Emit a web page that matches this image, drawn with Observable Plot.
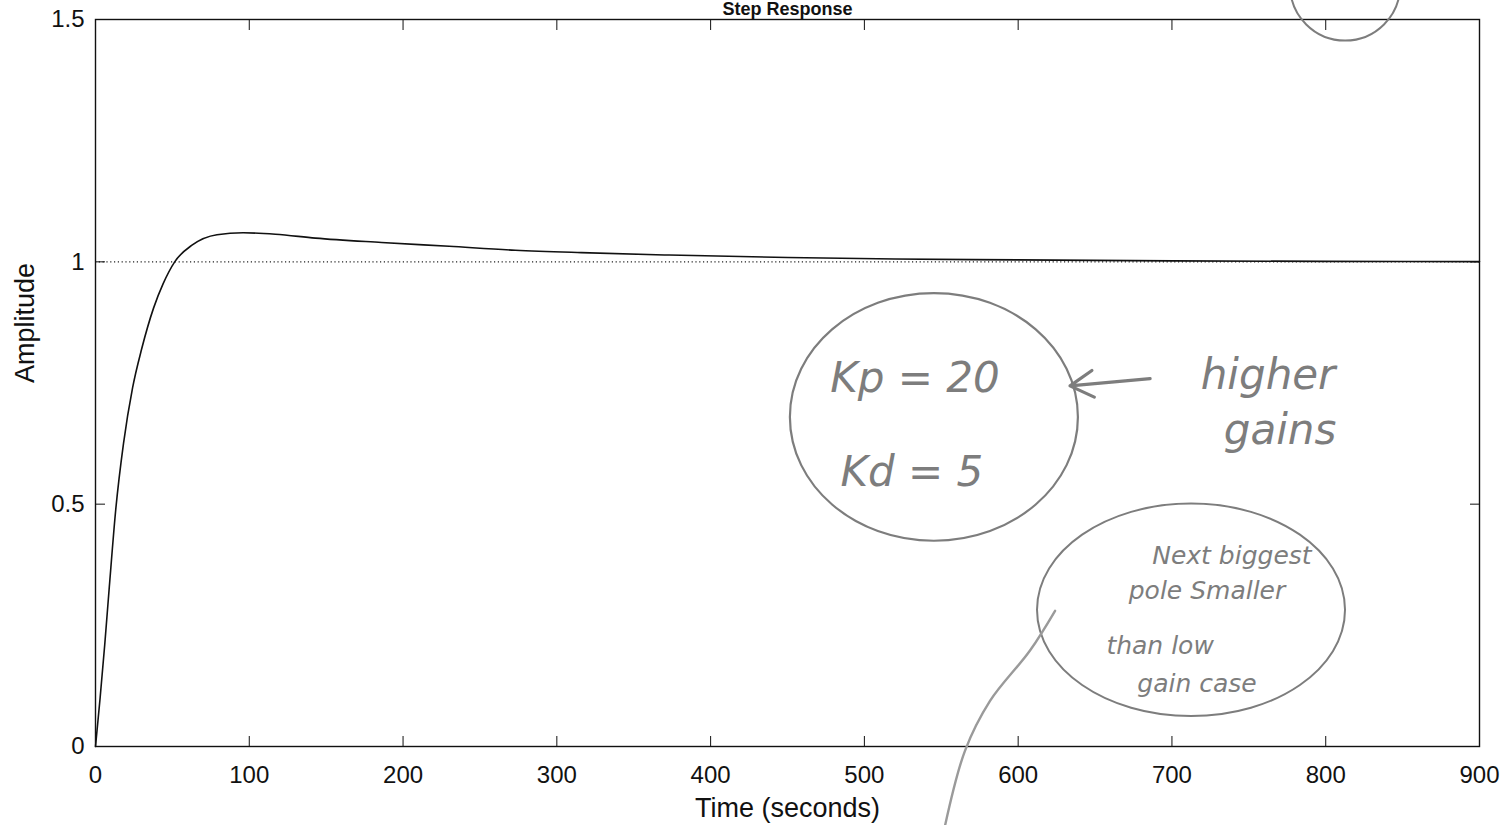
<!DOCTYPE html>
<html><head><meta charset="utf-8">
<script src="https://cdn.jsdelivr.net/npm/d3@7"></script>
<script src="https://cdn.jsdelivr.net/npm/@observablehq/plot@0.6"></script>
<style>
html,body{margin:0;padding:0;background:#fff;}
#chart svg{display:block;}
</style></head><body><div id="chart"></div>
<script>
// ---- data ----
const timeSec   = [0, 3, 6, 9, 13.2, 18.2, 24.1, 30, 37.8, 44, 51.5, 63, 79, 96, 117, 143, 186, 230, 273, 316, 373, 450, 520, 600, 700, 800, 900];
const amplitude = [0, 0.10, 0.21, 0.33, 0.49, 0.625, 0.74, 0.82, 0.905, 0.955, 1.0, 1.035, 1.056, 1.06, 1.057, 1.049, 1.04, 1.032, 1.024, 1.019, 1.014, 1.009, 1.006, 1.004, 1.002, 1.001, 1.0005];
const steadyState = [1];

const xTicks = [0, 100, 200, 300, 400, 500, 600, 700, 800, 900];
const xTickLabels = ["0", "100", "200", "300", "400", "500", "600", "700", "800", "900"];
const yTicks = [0, 0.5, 1, 1.5];
const yTickLabels = ["0", "0.5", "1", "1.5"];

const titleText = "Step Response";
const xLabel = "Time (seconds)";
const yLabel = "Amplitude";

// handwritten pencil notes
const bigNoteText = ["Kp = 20", "Kd = 5", "higher", "gains"];
const bigNoteT    = [532.9, 530.9, 762.5, 770.3];
const bigNoteA    = [0.759, 0.565, 0.765, 0.652];
const smallNoteText = ["Next biggest", "pole Smaller", "than low", "gain case"];
const smallNoteT    = [739, 722.8, 692.3, 716.3];
const smallNoteA    = [0.394, 0.321, 0.208, 0.129];
const arrowT = [685.8, 633.7];
const arrowA = [0.759, 0.744];
const pencilT = [624, 607.7, 581.7, 565.4, 552.4];
const pencilA = [0.28, 0.198, 0.094, -0.009, -0.164];
const circleKpT = [545.2], circleKpA = [0.680];
const circleNextT = [712.4], circleNextA = [0.282];
const circleTopT = [812.6], circleTopA = [1.57];

// ---- build tables ----
const response = timeSec.map((t, i) => ({t, a: amplitude[i]}));
const xLab = new Map(xTicks.map((d, i) => [d, xTickLabels[i]]));
const yLab = new Map(yTicks.map((d, i) => [d, yTickLabels[i]]));
const bigNotes = bigNoteText.map((text, i) => ({text, t: bigNoteT[i], a: bigNoteA[i]}));
const smallNotes = smallNoteText.map((text, i) => ({text, t: smallNoteT[i], a: smallNoteA[i]}));
const arrowData = [{t1: arrowT[0], a1: arrowA[0], t2: arrowT[1], a2: arrowA[1]}];
const pencil = pencilT.map((t, i) => ({t, a: pencilA[i]}));
const pt = (T, A) => T.map((t, i) => ({t, a: A[i]}));

function ellipseSymbol(aspect) {
  return {draw(ctx, size) {
    const rx = Math.sqrt(size / Math.PI), ry = rx * aspect, k = 0.5523;
    ctx.moveTo(rx, 0);
    ctx.bezierCurveTo(rx, ry * k, rx * k, ry, 0, ry);
    ctx.bezierCurveTo(-rx * k, ry, -rx, ry * k, -rx, 0);
    ctx.bezierCurveTo(-rx, -ry * k, -rx * k, -ry, 0, -ry);
    ctx.bezierCurveTo(rx * k, -ry, rx, -ry * k, rx, 0);
    ctx.closePath();
  }};
}

const pencilColor = "#7d7d7d";
const axisFont = "'Liberation Sans', Arial, Helvetica, sans-serif";
const handFont = "'DejaVu Sans', sans-serif";

const chart = Plot.plot({
  width: 1503,
  height: 825,
  marginLeft: 95,
  marginRight: 24,
  marginTop: 19,
  marginBottom: 79,
  style: {fontFamily: axisFont, background: "#fff", color: "#111"},
  x: {domain: [0, 900]},
  y: {domain: [0, 1.5]},
  marks: [
    Plot.ruleY(steadyState, {stroke: "#222", strokeWidth: 1.2, strokeDasharray: "1.2,2.6"}),
    Plot.line(response, {x: "t", y: "a", stroke: "#111", strokeWidth: 1.6, curve: "monotone-x"}),
    Plot.frame({stroke: "#111", strokeWidth: 1.4}),
    Plot.axisX({anchor: "bottom", ticks: xTicks, tickSize: -10, tickPadding: 29, tickFormat: d => xLab.get(d), fontSize: 24, label: null}),
    Plot.axisX({anchor: "top", ticks: xTicks, tickSize: -10, tickFormat: () => "", label: null}),
    Plot.axisY({anchor: "left", ticks: yTicks, tickSize: -10, tickPadding: 21, tickFormat: d => yLab.get(d), fontSize: 24, label: null}),
    Plot.axisY({anchor: "right", ticks: yTicks, tickSize: -10, tickFormat: () => "", label: null}),
    Plot.text([xLabel], {text: d => d, frameAnchor: "bottom", dy: 62, lineAnchor: "middle", fontSize: 27}),
    Plot.text([yLabel], {text: d => d, frameAnchor: "left", dx: -70, rotate: -90, lineAnchor: "middle", fontSize: 27}),
    Plot.text([titleText], {text: d => d, frameAnchor: "top", dy: -5, lineAnchor: "bottom", fontSize: 18, fontWeight: "bold"}),
    // pencil annotations
    Plot.dot(pt(circleKpT, circleKpA), {x: "t", y: "a", r: 144, symbol: ellipseSymbol(0.86), fill: "none", stroke: pencilColor, strokeWidth: 2.2}),
    Plot.dot(pt(circleNextT, circleNextA), {x: "t", y: "a", r: 154, symbol: ellipseSymbol(0.69), fill: "none", stroke: pencilColor, strokeWidth: 2}),
    Plot.dot(pt(circleTopT, circleTopA), {x: "t", y: "a", r: 55, symbol: ellipseSymbol(1), fill: "none", stroke: pencilColor, strokeWidth: 2}),
    Plot.line(pencil, {x: "t", y: "a", curve: "catmull-rom", stroke: "#9a9a9a", strokeWidth: 2.4}),
    Plot.arrow(arrowData, {x1: "t1", y1: "a1", x2: "t2", y2: "a2", stroke: pencilColor, strokeWidth: 3.2, headLength: 26}),
    Plot.text(bigNotes, {x: "t", y: "a", text: "text", fontSize: 42, fontFamily: handFont, fontStyle: "italic", fill: pencilColor}),
    Plot.text(smallNotes, {x: "t", y: "a", text: "text", fontSize: 25, fontFamily: handFont, fontStyle: "italic", fill: pencilColor})
  ]
});
document.getElementById("chart").appendChild(chart);
</script>
</body></html>
